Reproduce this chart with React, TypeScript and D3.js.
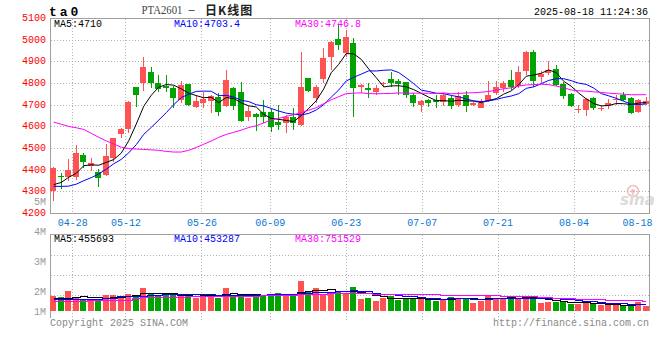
import React, { useEffect, useRef } from 'react';
import * as d3 from 'd3';

// trading days shown (PTA2601 daily)
const dates = [
  '04-23','04-24','04-25','04-28','04-29','04-30','05-06','05-07','05-08','05-09',
  '05-12','05-13','05-14','05-15','05-16','05-19','05-20','05-21','05-22','05-23',
  '05-26','05-27','05-28','05-29','05-30','06-03','06-04','06-05','06-06','06-09',
  '06-10','06-11','06-12','06-13','06-16','06-17','06-18','06-19','06-20','06-23',
  '06-24','06-25','06-26','06-27','06-30','07-01','07-02','07-03','07-04','07-07',
  '07-08','07-09','07-10','07-11','07-14','07-15','07-16','07-17','07-18','07-21',
  '07-22','07-23','07-24','07-25','07-28','07-29','07-30','07-31','08-01','08-04',
  '08-05','08-06','08-07','08-08','08-11','08-12','08-13','08-14','08-15','08-18',
];

const opens = [
  4304,4375,4370,4370,4470,4422,4393,4378,4455,4567, 4590,4782,4800,4854,4803,4790,4777,4724,4797,4690,
  4711,4720,4736,4696,4779,4762,4647,4659,4667,4667, 4624,4616,4647,4608,4823,4731,4820,4920,5005,4939,
  4988,4785,4777,4762,4797,4819,4811,4805,4747,4700, 4724,4724,4716,4731,4700,4747,4700,4688,4719,4757,
  4780,4816,4790,4859,4946,4831,4849,4866,4797,4751, 4677,4677,4731,4682,4696,4724,4747,4731,4670,4705,
];
const highs = [
  4416,4386,4450,4516,4481,4455,4404,4521,4550,4593, 4720,4784,4923,4877,4839,4839,4788,4811,4799,4747,
  4762,4745,4757,4862,4782,4808,4696,4662,4724,4681, 4700,4654,4685,4946,4826,4793,4965,4995,5069,5046,
  5008,4796,4800,4793,4808,4854,4819,4808,4754,4724, 4728,4747,4754,4742,4762,4767,4716,4727,4811,4811,
  4811,4862,4882,4951,4954,4859,4903,4885,4808,4754, 4700,4731,4736,4700,4728,4747,4762,4736,4728,4739,
];
const lows = [
  4258,4312,4350,4355,4409,4398,4324,4373,4439,4547, 4570,4693,4767,4777,4762,4762,4685,4708,4696,4685,
  4685,4662,4651,4693,4677,4624,4628,4582,4616,4578, 4585,4570,4585,4606,4762,4708,4800,4862,4954,4923,
  4644,4757,4731,4747,4785,4785,4747,4731,4693,4670, 4693,4685,4696,4682,4693,4670,4696,4685,4716,4747,
  4762,4770,4777,4839,4785,4800,4839,4788,4728,4693, 4662,4651,4677,4674,4682,4700,4720,4659,4665,4700,
];
const closes = [
  4412,4372,4401,4481,4439,4432,4363,4466,4547,4588, 4716,4747,4877,4800,4774,4777,4731,4793,4700,4719,
  4728,4742,4670,4816,4696,4628,4674,4644,4647,4601, 4608,4647,4619,4785,4767,4785,4919,4992,4977,5015,
  4777,4793,4770,4777,4803,4800,4796,4747,4711,4719, 4711,4716,4747,4697,4742,4696,4711,4711,4747,4785,
  4800,4785,4854,4943,4811,4842,4862,4791,4743,4697, 4684,4728,4685,4688,4708,4728,4724,4665,4724,4719,
];

const ma5 = [
  4334,4344,4368,4386,4421.0,4425.0,4423.2,4436.2,4449.4,4479.2, 4536.0,4612.8,4695.0,4745.6,4782.8,4795.0,4791.8,4775.0,4755.0,4744.0,
  4734.2,4736.4,4711.8,4735.0,4730.4,4710.4,4696.8,4691.6,4657.8,4638.8, 4634.8,4629.4,4624.4,4652.0,4685.2,4720.6,4775.0,4849.6,4888.0,4937.6,
  4936.0,4910.8,4866.4,4826.4,4784.0,4788.6,4789.2,4784.6,4771.4,4754.6, 4736.8,4720.8,4720.8,4718.0,4722.6,4719.6,4718.6,4711.4,4721.4,4730.0,
  4750.8,4765.6,4794.2,4833.4,4838.6,4847.0,4862.4,4849.8,4809.8,4787.0, 4755.4,4728.6,4707.4,4696.4,4698.6,4707.4,4706.6,4702.6,4709.8,4712.0,
];
const ma10 = [
  4326,4326,4327,4336,4352,4366,4383,4405,4430,4450.1, 4480.5,4518.0,4565.6,4597.5,4631.0,4665.5,4702.3,4735.0,4750.3,4763.4,
  4764.6,4764.1,4743.4,4745.0,4737.2,4722.3,4716.6,4701.7,4696.4,4684.6, 4672.6,4663.1,4658.0,4654.9,4662.0,4677.7,4702.2,4737.0,4770.0,4811.4,
  4828.3,4842.9,4858.0,4857.2,4860.8,4862.3,4850.0,4825.5,4798.9,4769.3, 4762.7,4755.0,4752.7,4744.7,4738.6,4728.2,4719.7,4716.1,4719.7,4726.3,
  4735.2,4742.1,4752.8,4777.4,4784.3,4798.9,4814.0,4822.0,4821.6,4812.8, 4801.2,4795.5,4778.6,4753.1,4742.8,4731.4,4717.6,4705.0,4703.1,4705.3,
];
const ma30 = [
  4622,4612,4602,4596,4588,4570,4552,4535,4521,4506, 4500,4498,4496,4494,4492,4487,4484,4484,4492,4505,
  4520,4535,4552,4565,4575,4585,4597,4605,4618,4632.7, 4639.2,4648.4,4655.7,4665.8,4676.7,4688.5,4707.0,4724.6,4738.9,4753.1,
  4755.2,4756.7,4753.1,4752.4,4753.3,4754.1,4756.3,4754.7,4755.1,4755.1, 4754.5,4753.7,4756.2,4752.3,4753.8,4756.1,4757.3,4759.5,4762.9,4769.0,
  4775.4,4780.0,4787.8,4793.1,4794.6,4796.5,4794.6,4787.9,4780.1,4769.5, 4766.4,4764.2,4761.4,4758.4,4755.2,4752.8,4750.4,4747.7,4748.1,4748.1,
];

// volume, thousand lots
const volumes = [
  1150,1080,1540,980,850,850,920,1230,1230,1020, 1310,1230,1770,1310,1230,1230,1230,1150,1100,1020,
  1310,1230,1020,1770,1230,1230,1020,1230,1230,1230, 1380,1150,1150,2330,1480,1790,1230,1480,1540,1410,
  1870,920,980,770,1020,1150,850,1020,920,920, 850,770,920,1100,1020,980,640,770,1230,1020,
  1020,1150,980,1150,920,640,720,720,720,540, 540,640,540,460,460,460,380,540,670,380,
];
const volMa5 = [
  950,960,1000,1010,1120,1060,1028,966,1016,1050, 1142,1204,1312,1328,1370,1354,1354,1230,1188,1146,
  1162,1162,1136,1270,1312,1296,1254,1296,1188,1188, 1218,1244,1228,1448,1498,1580,1596,1662,1504,1490,
  1506,1444,1344,1190,1112,968,954,962,992,972, 912,896,876,912,932,958,932,902,928,928,
  936,1038,1080,1064,1044,968,882,830,744,668, 648,632,596,544,528,512,460,460,502,486,
];
const volMa10 = [
  880,880,890,900,910,910,920,950,1000,1085, 1101,1116,1139,1172,1210,1248,1279,1271,1258,1258,
  1258,1258,1183,1229,1229,1229,1208,1216,1229,1250, 1257,1249,1262,1318,1343,1399,1420,1445,1476,1494,
  1543,1520,1503,1347,1301,1237,1199,1153,1091,1042, 940,925,919,952,952,935,914,889,920,930,
  947,985,991,996,986,952,960,955,904,856, 808,757,713,644,598,580,546,528,523,507,
];
const volMa30 = [
  750,755,760,760,765,770,790,800,810,815, 840,990,1010,1030,1040,1050,1060,1070,1080,1085,
  1090,1095,1100,1110,1120,1130,1140,1150,1170,1198, 1205,1208,1195,1240,1261,1292,1302,1311,1321,1334,
  1353,1342,1316,1298,1291,1288,1276,1271,1265,1262, 1247,1231,1228,1206,1199,1190,1178,1162,1162,1155,
  1143,1143,1138,1098,1080,1041,1024,999,972,943, 898,889,874,864,845,822,807,791,782,764,
];

const dateTicks = ['04-28','05-12','05-26','06-09','06-23','07-07','07-21','08-04','08-18'];
const priceTicks = [5100,5000,4900,4800,4700,4600,4500,4400,4300,4200];
const volTicks = [5,4,3,2,1];
const priceLegend = ['MA5:4710','MA10:4703.4','MA30:4746.8'];
const volLegend = ['MA5:455693','MA10:453287','MA30:751529'];
const lineColors = ['#000000','#0000ff','#ff00ff'];

const RED = '#ff5252';
const GREEN = '#00a300';
const GRID = '#b4b4b4';
const BORDER = '#a0a0a0';
const mono = "'Liberation Mono', 'DejaVu Sans Mono', monospace";

const App = () => {
  const svgRef = useRef<SVGSVGElement>(null);

  useEffect(() => {
    const svg = d3.select(svgRef.current);
    svg.selectAll('*').remove();

    const n = dates.length;
    const idx = d3.range(n);
    const x = d3.scaleBand<number>().domain(idx).range([50, 650]);
    const xc = (i: number) => (x(i) as number) + x.bandwidth() / 2;
    const xg = d3.scaleLinear().domain([0, n - 1]).range([50, 650]);
    const y = d3.scaleLinear().domain([4200, 5100]).range([213.7, 18.3]);
    const yv = d3.scaleLinear().domain([0, 6000]).range([311, 233]);
    const yvLab = d3.scaleLinear().domain([1, 5]).range([321, 201]);
    const hp = (v: number) => Math.floor(v) + 0.5;

    svg.append('rect').attr('width', 660).attr('height', 360).attr('fill', '#fff');

    const grid = svg.append('g')
      .attr('stroke', GRID)
      .attr('stroke-dasharray', '1,2')
      .attr('shape-rendering', 'crispEdges');

    priceTicks.filter(v => v > 4200 && v < 5100).forEach(v => {
      grid.append('line').attr('x1', 51).attr('x2', 649)
        .attr('y1', hp(y(v))).attr('y2', hp(y(v)));
    });
    d3.range(1, 4).forEach(k => {
      grid.append('line').attr('x1', 51).attr('x2', 649)
        .attr('y1', 235.5 + 20 * k).attr('y2', 235.5 + 20 * k);
    });
    dateTicks.slice(0, -1).forEach(t => {
      const gx = hp(xg(dates.indexOf(t)));
      grid.append('line').attr('x1', gx).attr('x2', gx).attr('y1', 19).attr('y2', 213);
      grid.append('line').attr('x1', gx).attr('x2', gx).attr('y1', 235).attr('y2', 320);
    });

    const border = svg.append('g')
      .attr('stroke', BORDER).attr('fill', 'none')
      .attr('shape-rendering', 'crispEdges');
    border.append('path').attr('d', 'M50.5,213.5V18.5H649.5V213.5H50.5');
    border.append('path').attr('d', 'M50.5,318V234.5H649.5V311');

    // candles
    const candles = svg.append('g').attr('shape-rendering', 'crispEdges');
    idx.forEach(i => {
      const up = closes[i] >= opens[i];
      const col = up ? RED : GREEN;
      const cx = hp(xc(i));
      candles.append('line')
        .attr('x1', cx).attr('x2', cx)
        .attr('y1', Math.round(y(highs[i]))).attr('y2', Math.round(y(lows[i])))
        .attr('stroke', col);
      const top = Math.round(y(Math.max(opens[i], closes[i])));
      const bot = Math.round(y(Math.min(opens[i], closes[i])));
      candles.append('rect')
        .attr('x', Math.floor(xc(i) - 3)).attr('width', 6)
        .attr('y', top).attr('height', Math.max(1, bot - top))
        .attr('fill', col);
    });

    // price moving averages
    const pline = d3.line<number>().x((_, i) => xc(i)).y(d => y(d));
    [ma5, ma10, ma30].forEach((s, k) => {
      svg.append('path').attr('d', pline(s)).attr('fill', 'none')
        .attr('stroke', lineColors[k]).attr('stroke-width', 1);
    });

    // volume bars
    const bars = svg.append('g').attr('shape-rendering', 'crispEdges');
    idx.forEach(i => {
      const top = Math.round(yv(volumes[i]));
      bars.append('rect')
        .attr('x', Math.floor(xc(i) - 3)).attr('width', 6)
        .attr('y', top).attr('height', 311 - top)
        .attr('fill', closes[i] >= opens[i] ? RED : GREEN);
    });
    const vline = d3.line<number>().x((_, i) => xc(i)).y(d => hp(yv(d))).curve(d3.curveStep);
    [volMa5, volMa10, volMa30].forEach((s, k) => {
      svg.append('path').attr('d', vline(s)).attr('fill', 'none')
        .attr('stroke', lineColors[k]).attr('stroke-width', 1)
        .attr('shape-rendering', 'crispEdges');
    });

    const txt = svg.append('g').attr('font-family', mono).attr('font-size', 10);

    // price axis labels
    priceTicks.forEach(v => {
      txt.append('text').attr('x', 46).attr('y', y(v) + 2.5)
        .attr('text-anchor', 'end').attr('fill', '#ff0000').text(String(v));
    });
    // volume axis labels
    volTicks.forEach(v => {
      txt.append('text').attr('x', 46).attr('y', Math.min(yvLab(v), 311.5) + 3.5)
        .attr('text-anchor', 'end').attr('fill', '#999').text(`${v}M`);
    });
    // date labels
    dateTicks.forEach(t => {
      txt.append('text').attr('x', Math.min(xg(dates.indexOf(t)), 637.5)).attr('y', 226)
        .attr('text-anchor', 'middle').attr('fill', '#0a78d2').text(t);
    });

    // legends
    const legX = [54, 174, 295];
    priceLegend.forEach((s, k) => {
      txt.append('text').attr('x', legX[k]).attr('y', 27).attr('fill', lineColors[k]).text(s);
    });
    volLegend.forEach((s, k) => {
      txt.append('text').attr('x', legX[k]).attr('y', 241.5).attr('fill', lineColors[k]).text(s);
    });

    // header
    svg.append('text').attr('x', 49).attr('y', 15.5)
      .attr('font-family', mono).attr('font-size', 13).attr('font-weight', 'bold')
      .attr('letter-spacing', 3).attr('fill', '#000').text('ta0');
    svg.append('text').attr('x', 141.5).attr('y', 14)
      .attr('font-family', "'Liberation Serif', serif").attr('font-size', 11.5)
      .attr('textLength', 41).attr('lengthAdjust', 'spacingAndGlyphs')
      .attr('fill', '#444').text('PTA2601');
    svg.append('text').attr('x', 188.5).attr('y', 13)
      .attr('font-family', "'Liberation Sans', sans-serif").attr('font-size', 11)
      .attr('fill', '#333').text('–');
    svg.append('text').attr('x', 205).attr('y', 14.5)
      .attr('font-family', "'Noto Sans CJK SC', sans-serif").attr('font-size', 12)
      .attr('letter-spacing', 1).attr('font-weight', 'bold').attr('fill', '#222').text('日K线图');
    txt.append('text').attr('x', 648).attr('y', 15).attr('text-anchor', 'end')
      .attr('fill', '#000').text('2025-08-18 11:24:36');

    // footer
    txt.append('text').attr('x', 50).attr('y', 326).attr('fill', '#888').text('Copyright 2025 SINA.COM');
    txt.append('text').attr('x', 649).attr('y', 326).attr('text-anchor', 'end')
      .attr('fill', '#888').text('http://finance.sina.com.cn');

    // watermark
    const wm = svg.append('g').attr('opacity', 0.55);
    wm.append('circle').attr('cx', 633).attr('cy', 191).attr('r', 5.5)
      .attr('fill', 'none').attr('stroke', '#ee8888').attr('stroke-width', 1.5);
    wm.append('circle').attr('cx', 633).attr('cy', 191).attr('r', 2).attr('fill', '#ee8888');
    wm.append('text').attr('x', 620).attr('y', 205)
      .attr('font-family', "'DejaVu Sans', sans-serif").attr('font-size', 15)
      .attr('font-style', 'italic').attr('font-weight', 'bold')
      .attr('fill', '#bdbdbd').text('sina');
  }, []);

  return (
    <svg ref={svgRef} width={660} height={360}
      style={{ position: 'absolute', left: 0, top: 0, display: 'block' }} />
  );
};

export default App;
